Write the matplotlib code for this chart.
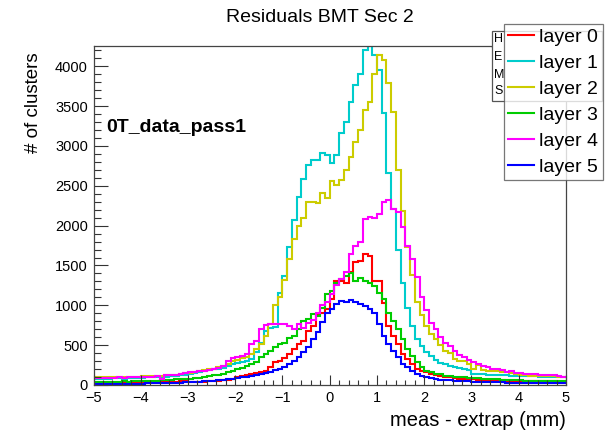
import matplotlib
matplotlib.use("Agg")
import matplotlib.pyplot as plt
from matplotlib.patches import Rectangle
from matplotlib.lines import Line2D
import numpy as np

plt.rcParams["font.family"] = ["Liberation Sans", "DejaVu Sans"]

# 100 bins of width 0.1 between -5 and 5
bin_edges = np.linspace(-5, 5, 101)

layer0 = [20, 22, 20, 24, 22, 25, 24, 26, 28, 30,
          30, 32, 33, 35, 36, 38, 40, 42, 45, 48,
          35, 38, 40, 42, 45, 50, 55, 60, 68, 80,
          95, 110, 125, 137, 150, 165, 179, 220, 283, 304,
          333, 388, 450, 512, 554, 679, 742, 888, 908, 950,
          1075, 1300, 1310, 1280, 1420, 1540, 1560, 1640, 1620, 1300,
          1300, 1033, 742, 617, 512, 388, 325, 263, 200, 179,
          158, 140, 125, 110, 100, 95, 85, 80, 75, 72,
          70, 68, 65, 62, 60, 58, 58, 55, 55, 52,
          52, 50, 50, 48, 48, 45, 45, 45, 42, 42]

layer1 = [75, 78, 80, 76, 82, 85, 80, 84, 88, 90,
          92, 95, 98, 96, 100, 105, 110, 115, 120, 130,
          137, 150, 165, 179, 185, 200, 205, 215, 240, 262,
          280, 290, 300, 330, 412, 533, 679, 720, 730, 1160,
          1370, 1730, 2070, 2360, 2590, 2763, 2830, 2825, 2908, 2888,
          2783, 2888, 3158, 3304, 3554, 3762, 3908, 4200, 4250, 4140,
          3958, 3417, 2667, 2208, 1700, 1280, 965, 735, 580, 485,
          420, 370, 320, 280, 262, 242, 221, 210, 205, 190,
          140, 137, 135, 130, 128, 125, 122, 120, 118, 117,
          115, 112, 110, 108, 106, 105, 104, 102, 100, 100]

layer2 = [95, 98, 96, 100, 98, 102, 100, 103, 105, 105,
          108, 110, 112, 115, 118, 120, 125, 130, 138, 145,
          155, 165, 175, 185, 195, 205, 220, 240, 265, 300,
          320, 335, 350, 390, 450, 520, 620, 762, 1000, 1100,
          1312, 1583, 1833, 1995, 2100, 2300, 2300, 2285, 2410, 2350,
          2555, 2510, 2575, 2700, 2865, 3055, 3200, 3450, 3550, 3900,
          4140, 4075, 3790, 3430, 2700, 2190, 1730, 1375, 1040, 880,
          742, 637, 575, 500, 430, 400, 330, 304, 300, 262,
          200, 255, 185, 180, 175, 172, 168, 160, 145, 137,
          125, 120, 117, 115, 112, 110, 110, 108, 106, 105]

layer3 = [35, 38, 40, 38, 42, 40, 45, 42, 45, 48,
          50, 52, 55, 55, 60, 62, 65, 70, 72, 75,
          80, 85, 90, 100, 110, 120, 130, 140, 160, 180,
          200, 215, 235, 260, 283, 346, 388, 429, 471, 512,
          533, 596, 617, 700, 804, 825, 888, 867, 971, 1138,
          1179, 1283, 1325, 1367, 1408, 1304, 1346, 1304, 1283, 1242,
          1158, 1075, 908, 804, 700, 575, 450, 367, 283, 221,
          179, 158, 137, 137, 117, 117, 105, 100, 95, 90,
          85, 82, 80, 75, 72, 70, 68, 65, 62, 60,
          58, 55, 55, 52, 50, 50, 48, 48, 45, 45]

layer4 = [85, 90, 88, 92, 90, 95, 92, 95, 100, 98,
          100, 102, 105, 110, 80, 120, 125, 130, 140, 150,
          160, 165, 170, 180, 190, 200, 215, 241, 300, 340,
          346, 360, 392, 512, 554, 700, 755, 760, 765, 770,
          760, 745, 705, 765, 715, 780, 820, 900, 1000, 1040,
          1146, 1250, 1333, 1417, 1646, 1750, 1792, 2083, 2104, 2096,
          2146, 2292, 2325, 2208, 2167, 1979, 1750, 1583, 1360, 1110,
          940, 780, 700, 600, 530, 490, 429, 375, 346, 317,
          290, 262, 242, 221, 200, 195, 192, 158, 170, 150,
          145, 140, 137, 140, 130, 128, 125, 120, 110, 104]

layer5 = [10, 12, 10, 12, 15, 12, 15, 14, 16, 18,
          18, 20, 20, 22, 25, 25, 28, 30, 30, 32,
          35, 38, 42, 45, 50, 55, 60, 65, 72, 80,
          85, 95, 100, 110, 120, 135, 150, 165, 185, 205,
          230, 260, 300, 350, 417, 479, 583, 667, 792, 900,
          958, 1021, 1050, 1042, 1062, 1042, 1021, 992, 950, 908,
          762, 617, 512, 429, 346, 263, 221, 179, 137, 117,
          96, 85, 75, 68, 62, 58, 55, 50, 48, 45,
          42, 40, 38, 36, 35, 34, 32, 30, 30, 28,
          28, 26, 25, 25, 24, 22, 22, 20, 20, 20]

layers = [layer0, layer1, layer2, layer3, layer4, layer5]
labels = ["layer 0", "layer 1", "layer 2", "layer 3", "layer 4", "layer 5"]
colors = ["#ff0000", "#00cccc", "#cccc00", "#00cc00", "#ff00ff", "#0000ff"]

W, H = 610, 430
fig = plt.figure(figsize=(W / 100, H / 100), dpi=100)
ax = fig.add_axes([93.5 / W, 1 - 385 / H, (566 - 93.5) / W, (385 - 46) / H])

for vals, lab, col in zip(layers, labels, colors):
    ax.stairs(vals, bin_edges, baseline=None, color=col, lw=1.5, label=lab)

ax.set_xlim(-5, 5)
ax.set_ylim(0, 4255)
ax.set_xticks(np.arange(-5, 6, 1))
ax.set_xticks(np.arange(-5, 5.01, 0.2), minor=True)
ax.set_yticks(np.arange(0, 4001, 500))
ax.set_yticks(np.arange(0, 4201, 100), minor=True)
ax.tick_params(which="both", direction="in", top=False, right=False,
               labelsize=10.5, color="#333333", width=0.8)
ax.tick_params(axis="x", which="major", length=7, pad=4)
ax.tick_params(axis="x", which="minor", length=3.5)
ax.tick_params(axis="y", which="major", length=10, pad=4)
ax.tick_params(axis="y", which="minor", length=5)
for s in ax.spines.values():
    s.set_color("#444444")
    s.set_linewidth(0.9)

fig.text(320 / W, 1 - 18 / H, "Residuals BMT Sec 2", ha="center", va="center", fontsize=14)
fig.text(566 / W, 1 - 420 / H, "meas - extrap (mm)", ha="right", va="center", fontsize=14.5)
fig.text(33 / W, 1 - 52 / H, "# of clusters", ha="center", va="top", rotation=90, fontsize=13.5)
fig.text(106 / W, 1 - 128 / H, "0T_data_pass1", ha="left", va="center",
         fontsize=14, fontweight="bold")

# stats box sitting behind the legend
fig.patches.append(Rectangle((492 / W, 1 - 101 / H), 110 / W, 70 / H,
                             transform=fig.transFigure, facecolor="white",
                             edgecolor="#555555", lw=0.9, zorder=2))
fig.lines.append(Line2D([492 / W, 602 / W], [1 - 47 / H, 1 - 47 / H],
                        transform=fig.transFigure, color="#555555", lw=0.9, zorder=2))
for ytxt, s in [(39, "H"), (57, "E"), (75, "M"), (91, "S")]:
    fig.text(494 / W, 1 - ytxt / H, s, ha="left", va="center", fontsize=9, zorder=3)

leg = fig.legend(loc="upper left", bbox_to_anchor=(504 / W, 1 - 24 / H),
                 fontsize=14, frameon=True, fancybox=False, edgecolor="#555555",
                 borderpad=0.22, handlelength=1.3, handletextpad=0.3,
                 labelspacing=0.43, borderaxespad=0)
leg.get_frame().set_linewidth(0.9)
leg.set_zorder(5)

fig.savefig("out.png", dpi=100)
